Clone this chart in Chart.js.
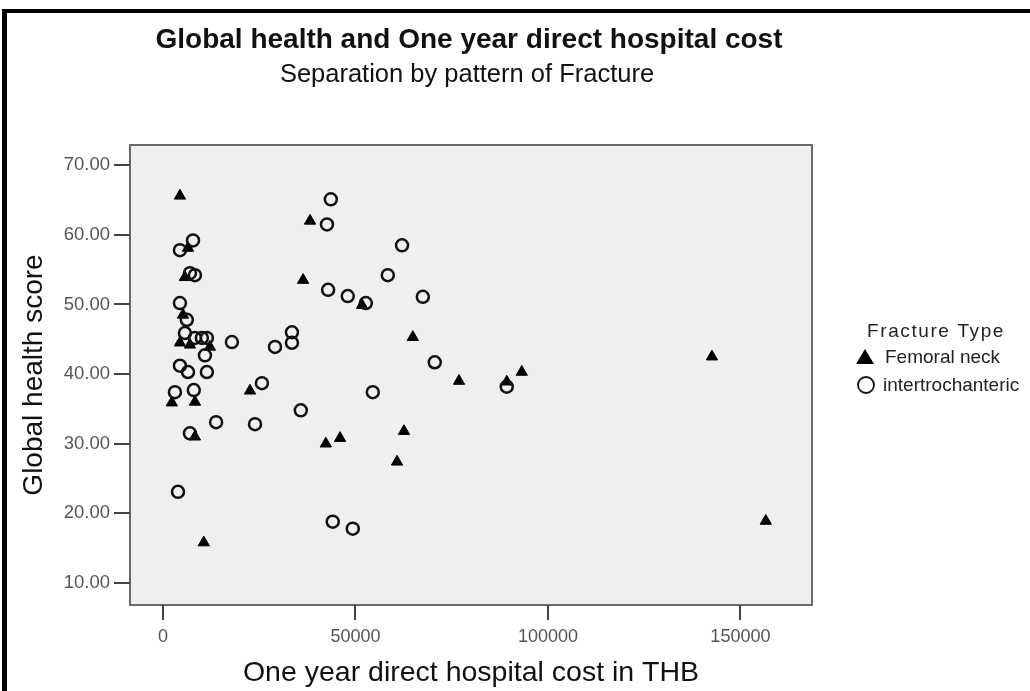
<!DOCTYPE html>
<html><head><meta charset="utf-8">
<script src="https://cdn.jsdelivr.net/npm/chart.js@4/dist/chart.umd.min.js"></script>
<style>
html,body{margin:0;padding:0;background:#fff;}
#wrap{position:relative;width:1030px;height:691px;overflow:hidden;}
#frame{position:absolute;left:2px;top:9px;width:1100px;height:800px;border-top:4px solid #000;border-left:5px solid #000;}
canvas{position:absolute;left:0;top:0;}
</style></head><body>
<div id="wrap"><div id="frame"></div><canvas id="c" width="1030" height="691"></canvas></div>
<script>
const chartTitle = "Global health and One year direct hospital cost";
const chartSubtitle = "Separation by pattern of Fracture";
const xAxisTitle = "One year direct hospital cost in THB";
const yAxisTitle = "Global health score";
const legendTitle = "Fracture Type";
const seriesNames = ["Femoral neck", "intertrochanteric"];
const xTicks = [0, 50000, 100000, 150000];
const yTicks = [10, 20, 30, 40, 50, 60, 70];

const femoralCost  = [4400, 6500, 5700, 5200, 4400, 7000, 12200, 38200, 36400, 51700, 64900, 22600, 2300, 8300, 8300, 76900, 93200, 89300, 142600, 156600, 42300, 46000, 62600, 60800, 10600];
const femoralScore = [65.6, 58.1, 53.9, 48.5, 44.5, 44.2, 43.9, 62.0, 53.5, 49.9, 45.3, 37.6, 35.9, 36.0, 31.0, 39.0, 40.3, 38.9, 42.5, 18.9, 30.0, 30.8, 31.8, 27.4, 15.8];

const interCost  = [43600, 42600, 62100, 58400, 42900, 48000, 52700, 67500, 33500, 33500, 29100, 7800, 4400, 8300, 7000, 4400, 6200, 5700, 8300, 10100, 11400, 10900, 17900, 4400, 6500, 11400, 25700, 3100, 8000, 13800, 23900, 7000, 3900, 70600, 54500, 35800, 44100, 49300, 89300];
const interScore = [65.1, 61.5, 58.5, 54.2, 52.1, 51.2, 50.2, 51.1, 46.0, 44.5, 43.9, 59.2, 57.8, 54.2, 54.5, 50.2, 47.8, 45.9, 45.2, 45.2, 45.2, 42.7, 44.6, 41.2, 40.3, 40.3, 38.7, 37.4, 37.7, 33.1, 32.8, 31.5, 23.1, 41.7, 37.4, 34.8, 18.8, 17.8, 38.2];

const FAM = '"Liberation Sans", Arial, sans-serif';
const toPts = (xs, ys) => xs.map((x, i) => ({x: x, y: ys[i]}));

const plotDeco = {
  id: 'plotDeco',
  beforeDraw(chart) {
    const {ctx, chartArea: a} = chart;
    ctx.save();
    ctx.fillStyle = '#efefef';
    ctx.fillRect(a.left, a.top, a.right - a.left, a.bottom - a.top);
    ctx.strokeStyle = '#6a6a6a';
    ctx.lineWidth = 2;
    ctx.strokeRect(a.left, a.top, a.right - a.left, a.bottom - a.top);
    ctx.restore();
  },
  afterDraw(chart) {
    const ctx = chart.ctx;
    ctx.save();
    ctx.fillStyle = '#111';
    ctx.textAlign = 'center';
    ctx.textBaseline = 'middle';
    ctx.font = 'bold 28px ' + FAM;
    ctx.fillText(chartTitle, 469, 40);
    ctx.font = '25.5px ' + FAM;
    ctx.fillText(chartSubtitle, 467, 75);
    // legend
    ctx.textAlign = 'left';
    ctx.fillStyle = '#222';
    ctx.font = '19px ' + FAM;
    ctx.letterSpacing = '1.6px';
    ctx.fillText(legendTitle, 867, 332);
    ctx.letterSpacing = '0px';
    ctx.fillText(seriesNames[0], 885, 358);
    ctx.fillText(seriesNames[1], 883, 386);
    ctx.fillStyle = '#000';
    ctx.beginPath();
    ctx.moveTo(865, 349); ctx.lineTo(874, 364); ctx.lineTo(856, 364); ctx.closePath();
    ctx.fill();
    ctx.strokeStyle = '#111';
    ctx.lineWidth = 1.8;
    ctx.beginPath();
    ctx.arc(866, 385, 8, 0, Math.PI * 2);
    ctx.stroke();
    ctx.restore();
  }
};

new Chart(document.getElementById('c'), {
  type: 'scatter',
  data: {
    datasets: [
      {label: seriesNames[1], data: toPts(interCost, interScore), pointStyle: 'circle', pointRadius: 6, backgroundColor: 'rgba(0,0,0,0)', borderColor: '#111', borderWidth: 2.5},
      {label: seriesNames[0], data: toPts(femoralCost, femoralScore), pointStyle: 'triangle', pointRadius: 6.5, backgroundColor: '#000', borderColor: '#000', borderWidth: 1}
    ]
  },
  options: {
    responsive: false,
    animation: false,
    events: [],
    layout: {padding: {top: 145, right: 218, left: 0, bottom: 0}},
    plugins: {legend: {display: false}, tooltip: {enabled: false}, title: {display: false}},
    scales: {
      x: {
        type: 'linear', min: -8570, max: 168600,
        afterBuildTicks: s => { s.ticks = xTicks.map(v => ({value: v})); },
        afterFit: s => { s.height = 86; },
        ticks: {callback: v => String(v), font: {size: 18, family: FAM}, color: '#555', padding: 6, maxRotation: 0, autoSkip: false},
        grid: {drawOnChartArea: false, drawTicks: true, tickLength: 15, color: '#444', lineWidth: 2},
        border: {display: false},
        title: {display: true, text: xAxisTitle, font: {size: 28.5, family: FAM}, color: '#111', padding: {top: 0, bottom: 1}}
      },
      y: {
        type: 'linear', min: 6.84, max: 72.9,
        afterBuildTicks: s => { s.ticks = yTicks.map(v => ({value: v})); },
        afterFit: s => { s.width = 130; },
        ticks: {callback: v => Number(v).toFixed(2), font: {size: 18.5, family: FAM}, color: '#555', padding: 4, autoSkip: false},
        grid: {drawOnChartArea: false, drawTicks: true, tickLength: 16, color: '#444', lineWidth: 2},
        border: {display: false},
        title: {display: true, text: yAxisTitle, font: {size: 28, family: FAM}, color: '#111', padding: {top: 17, bottom: 0}}
      }
    }
  },
  plugins: [plotDeco]
});
</script>
</body></html>
